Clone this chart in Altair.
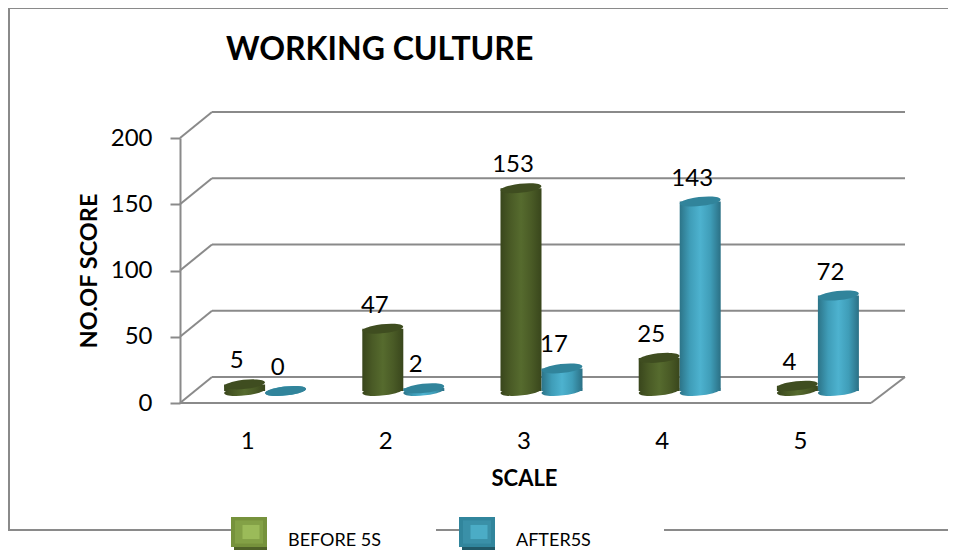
import altair as alt
import pandas as pd

categories = ["1", "2", "3", "4", "5"]
before_5s = [5, 47, 153, 25, 4]
after_5s = [0, 2, 17, 143, 72]
y_ticks = [0, 50, 100, 150, 200]
legend_names = ["BEFORE 5S", "AFTER5S"]

FONT = "Lato"
LINE = "#8a8a8a"
# tilted unit ellipse for the cylinder caps
CAP = "M-0.9945,0.1045 A1,0.22,-6,1,1,0.9945,-0.1045 A1,0.22,-6,1,1,-0.9945,0.1045 Z"
SWATCH = "M-1,-0.83 L1,-0.83 L1,0.83 L-1,0.83 Z"
BAR_W = 41


def grad(stops):
    n = len(stops) - 1
    return alt.Gradient(
        gradient="linear", x1=0, x2=1, y1=0, y2=0,
        stops=[alt.GradientStop(offset=i / n, color=c) for i, c in enumerate(stops)],
    )


GREEN = grad(["#39461c", "#4a5b26", "#566b2e", "#4a5b26", "#39461c"])
BLUE = grad(["#2c7488", "#3f9db8", "#4db2cf", "#3f9db8", "#2b7085"])

df = pd.DataFrame({"cat": categories, "before": before_5s, "after": after_5s})
grid = pd.DataFrame({"v": y_ticks, "a": 0, "b": 5})
floor = pd.DataFrame({"v": [0], "a": [0], "b": [5]})

xq = alt.X("a:Q", scale=alt.Scale(domain=[0, 5]), axis=None)
yaxis = alt.Axis(
    values=y_ticks, title="NO.OF SCORE", titleFont=FONT, titleFontSize=23.5, titleFontWeight="bold",
    titleColor="black", titlePadding=9, labelFont=FONT, labelFontSize=24, labelColor="black",
    labelPadding=18, tickSize=10, tickColor=LINE, tickWidth=2, domainColor=LINE, domainWidth=2,
    grid=False,
)
yscale = alt.Scale(domain=[0, 200], nice=False)


def Y(field):
    return alt.Y(field, scale=yscale, axis=yaxis, stack=None)


back = (
    alt.Chart(grid)
    .mark_rule(stroke=LINE, strokeWidth=2, xOffset=32, x2Offset=34, yOffset=-26, y2Offset=-26)
    .encode(x=xq, x2="b:Q", y=Y("v:Q"), y2="v:Q")
)
diag = (
    alt.Chart(grid)
    .mark_rule(stroke=LINE, strokeWidth=2, x2Offset=32, y2Offset=-26)
    .encode(x=xq, x2="a:Q", y=Y("v:Q"), y2="v:Q")
)
front = (
    alt.Chart(floor)
    .mark_rule(stroke=LINE, strokeWidth=2)
    .encode(x=xq, x2="b:Q", y=Y("v:Q"), y2="v:Q")
)
side = (
    alt.Chart(floor)
    .mark_rule(stroke=LINE, strokeWidth=2, x2Offset=34, y2Offset=-26)
    .encode(x=alt.X("b:Q", scale=alt.Scale(domain=[0, 5]), axis=None), x2="b:Q", y=Y("v:Q"), y2="v:Q")
)

band = alt.Scale(domain=categories, paddingInner=0, paddingOuter=0)
xb_axis = alt.X(
    "cat:N",
    sort=categories,
    scale=band,
    axis=alt.Axis(
        orient="bottom",
        title="SCALE", titleFont=FONT, titleFontSize=22, titleFontWeight="bold", titleColor="black",
        titlePadding=15, titleX=344, labelFont=FONT, labelFontSize=24, labelColor="black", labelAngle=0,
        labelPadding=26, labelOffset=-2, ticks=False, domain=False, grid=False,
    ),
)
xb = alt.X("cat:N", sort=categories, scale=band, axis=None)


def series(field, off, body, top, xfirst):
    val = Y(f"{field}:Q")
    base = alt.Chart(df).transform_calculate(zero="0")
    bottom = base.mark_point(
        shape=CAP, size=BAR_W**2, filled=True, fill=body, strokeWidth=0, opacity=1, xOffset=off, yOffset=-12
    ).encode(x=xfirst, y=Y("zero:Q"))
    bar = base.mark_bar(width=BAR_W, color=body, xOffset=off, yOffset=-12, y2Offset=-12).encode(
        x=xb, y=val, y2="zero:Q"
    )
    cap = base.mark_point(
        shape=CAP, size=BAR_W**2, filled=True, fill=top, strokeWidth=0, opacity=1, xOffset=off, yOffset=-12
    ).encode(x=xb, y=val)
    label = base.mark_text(
        font=FONT, fontSize=24, color="black", baseline="middle", xOffset=off - 8, yOffset=-35
    ).encode(x=xb, y=val, text=f"{field}:Q")
    return [bottom, bar, cap, label]


legend = pd.DataFrame(
    {
        "name": legend_names,
        "px": [69, 297],
        "tx": [108, 336],
    }
)
legend_layers = []
for dx, dy, s, c0, c1 in [
    (1.5, 5, 33, "#4f6228", "#205867"),
    (0, 0, 36, "#76923c", "#31859c"),
    (0, 0, 28, "#83a146", "#3a90a8"),
    (2, 0, 17, "#9bbb59", "#4bacc6"),
]:
    leg = alt.Chart(legend).transform_calculate(c=f"datum.name == 'BEFORE 5S' ? '{c0}' : '{c1}'")
    legend_layers.append(
        leg.mark_point(
            shape=SWATCH, size=s**2, filled=True, opacity=1, strokeWidth=0, xOffset=dx, yOffset=dy
        ).encode(
            x=alt.X("px:Q", scale=None, axis=None),
            y=alt.value(394),
            fill=alt.Color("c:N", scale=None),
        )
    )
legend_text = alt.Chart(legend).mark_text(
    font=FONT, fontSize=18, color="black", align="left", baseline="alphabetic"
).encode(x=alt.X("tx:Q", scale=None, axis=None), y=alt.value(408), text="name:N")

border = [
    alt.Chart(floor).mark_rule(stroke=LINE, strokeWidth=2).encode(
        x=alt.value(-172), x2=alt.value(768), y=alt.value(-130)
    ),
    alt.Chart(floor).mark_rule(stroke=LINE, strokeWidth=2).encode(
        x=alt.value(-171), y=alt.value(-130), y2=alt.value(392)
    ),
    alt.Chart(floor).mark_rule(stroke=LINE, strokeWidth=2).encode(
        x=alt.value(-172), x2=alt.value(51), y=alt.value(392)
    ),
    alt.Chart(floor).mark_rule(stroke=LINE, strokeWidth=2).encode(
        x=alt.value(256), x2=alt.value(280), y=alt.value(392)
    ),
    alt.Chart(floor).mark_rule(stroke=LINE, strokeWidth=2).encode(
        x=alt.value(484), x2=alt.value(768), y=alt.value(392)
    ),
]

layers = (
    border
    + [back, diag, front, side]
    + series("before", -4.5, GREEN, "#3f4d20", xb_axis)
    + series("after", 36.5, BLUE, "#31849b", xb)
    + legend_layers
    + [legend_text]
)

chart = (
    alt.layer(*layers)
    .resolve_scale(x="independent")
    .properties(
        width=691,
        height=265,
        padding={"left": 172, "top": 130, "right": 77, "bottom": 147},
        autosize=alt.AutoSizeParams(type="none"),
        title=alt.TitleParams(
            "WORKING CULTURE", font=FONT, fontSize=32, fontWeight="bold", color="black",
            anchor="start", frame="group", baseline="alphabetic", dx=46, dy=85, offset=0,
        ),
    )
    .configure_view(stroke=None)
)

chart.save("out.html", embed_options={"renderer": "svg", "actions": False})
